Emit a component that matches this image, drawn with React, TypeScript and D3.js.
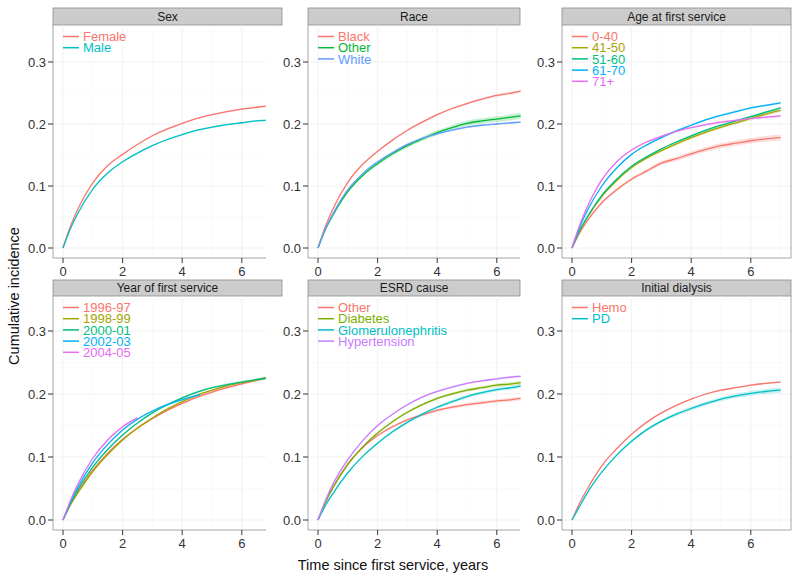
import React from "react";
import * as d3 from "d3";

// ---------- data ----------
const timesA = [0, 0.25, 0.5, 1, 1.5, 2, 2.5, 3, 3.5, 4, 4.5, 5, 5.5, 6, 6.5, 6.8];
const timesB = [0, 0.25, 0.5, 1, 1.5, 2, 2.5, 3, 3.5, 4, 4.5, 5, 5.5, 6, 6.5, 7];
const timesPD = [0, 0.25, 0.5, 0.75, 0.9, 1, 1.5, 2, 2.5, 3, 3.5, 4, 4.5, 5, 5.5, 6, 6.5, 7];
const timesHemo = [0, 0.25, 0.5, 0.75, 1, 1.5, 2, 2.5, 3, 3.5, 4, 4.5, 5, 5.5, 6, 6.5, 7];
const times0203 = [0, 0.25, 0.5, 1, 1.5, 2, 2.5, 3, 3.5, 4, 4.6];
const times0405 = [0, 0.25, 0.5, 1, 1.5, 2, 2.5];

const sexLabels = ["Female", "Male"];
const sexFemale = [0, 0.035, 0.063, 0.105, 0.133, 0.151, 0.167, 0.181, 0.192, 0.201, 0.209, 0.215, 0.22, 0.224, 0.227, 0.229];
const sexMale = [0, 0.031, 0.056, 0.095, 0.121, 0.139, 0.153, 0.165, 0.175, 0.183, 0.19, 0.195, 0.199, 0.202, 0.205, 0.206];

const raceLabels = ["Black", "Other", "White"];
const raceBlack = [0, 0.035, 0.063, 0.106, 0.135, 0.156, 0.174, 0.19, 0.203, 0.215, 0.225, 0.233, 0.24, 0.246, 0.25, 0.253];
const raceOther = [0, 0.03, 0.053, 0.091, 0.117, 0.136, 0.152, 0.165, 0.176, 0.186, 0.194, 0.201, 0.205, 0.208, 0.211, 0.213];
const raceWhite = [0, 0.031, 0.055, 0.094, 0.12, 0.139, 0.154, 0.167, 0.177, 0.184, 0.19, 0.195, 0.198, 0.2, 0.202, 0.203];

const ageLabels = ["0-40", "41-50", "51-60", "61-70", "71+"];
const age0040 = [0, 0.024, 0.043, 0.073, 0.094, 0.111, 0.124, 0.137, 0.144, 0.152, 0.159, 0.165, 0.169, 0.173, 0.176, 0.178];
const age4150 = [0, 0.027, 0.048, 0.083, 0.109, 0.13, 0.145, 0.157, 0.168, 0.178, 0.187, 0.195, 0.202, 0.209, 0.216, 0.222];
const age5160 = [0, 0.028, 0.049, 0.085, 0.111, 0.132, 0.147, 0.16, 0.171, 0.181, 0.19, 0.198, 0.205, 0.212, 0.219, 0.226];
const age6170 = [0, 0.033, 0.059, 0.1, 0.129, 0.151, 0.166, 0.178, 0.189, 0.198, 0.207, 0.214, 0.22, 0.226, 0.23, 0.234];
const age71p = [0, 0.036, 0.065, 0.11, 0.139, 0.158, 0.171, 0.18, 0.188, 0.194, 0.199, 0.203, 0.206, 0.209, 0.211, 0.213];

const yearLabels = ["1996-97", "1998-99", "2000-01", "2002-03", "2004-05"];
const year9697 = [0, 0.025, 0.045, 0.079, 0.106, 0.128, 0.146, 0.161, 0.174, 0.185, 0.195, 0.203, 0.21, 0.216, 0.222, 0.226];
const year9899 = [0, 0.024, 0.043, 0.077, 0.104, 0.127, 0.146, 0.162, 0.176, 0.188, 0.198, 0.206, 0.213, 0.218, 0.222, 0.225];
const year0001 = [0, 0.026, 0.048, 0.084, 0.112, 0.135, 0.154, 0.17, 0.183, 0.194, 0.203, 0.21, 0.215, 0.219, 0.223, 0.225];
const year0203 = [0, 0.028, 0.052, 0.091, 0.12, 0.143, 0.16, 0.173, 0.183, 0.191, 0.199];
const year0405 = [0, 0.031, 0.057, 0.098, 0.127, 0.148, 0.162];

const esrdLabels = ["Other", "Diabetes", "Glomerulonephritis", "Hypertension"];
const esrdOther = [0, 0.029, 0.052, 0.089, 0.115, 0.134, 0.148, 0.159, 0.167, 0.174, 0.179, 0.183, 0.186, 0.189, 0.191, 0.193];
const esrdDiab = [0, 0.028, 0.051, 0.088, 0.116, 0.138, 0.156, 0.171, 0.183, 0.193, 0.2, 0.206, 0.21, 0.214, 0.216, 0.218];
const esrdGN = [0, 0.023, 0.042, 0.075, 0.101, 0.122, 0.14, 0.155, 0.168, 0.179, 0.188, 0.196, 0.202, 0.207, 0.21, 0.213];
const esrdHyp = [0, 0.031, 0.057, 0.096, 0.126, 0.15, 0.168, 0.183, 0.195, 0.204, 0.211, 0.217, 0.221, 0.224, 0.227, 0.228];

const dialLabels = ["Hemo", "PD"];
const dialHemo = [0, 0.026, 0.048, 0.068, 0.086, 0.113, 0.136, 0.155, 0.17, 0.182, 0.192, 0.2, 0.206, 0.21, 0.214, 0.217, 0.219];
const dialPD = [0, 0.021, 0.042, 0.06, 0.07, 0.076, 0.103, 0.125, 0.143, 0.157, 0.168, 0.177, 0.185, 0.192, 0.197, 0.201, 0.204, 0.206];

// CI half widths at the end of follow-up, per series
const sexCI = [0.0015, 0.0015];
const raceCI = [0.002, 0.005, 0.0015];
const ageCI = [0.005, 0.003, 0.002, 0.002, 0.002];
const yearCI = [0.002, 0.002, 0.002, 0.002, 0.002];
const esrdCI = [0.003, 0.003, 0.003, 0.002];
const dialCI = [0.0015, 0.004];

const yTicks = [0, 0.1, 0.2, 0.3];
const yMinor = [0.05, 0.15, 0.25, 0.35];
const xTicks = [0, 2, 4, 6];
const xMinor = [1, 3, 5, 7];

const hue2 = ["#F8766D", "#00BFC4"];
const hue3 = ["#F8766D", "#00BA38", "#619CFF"];
const hue4 = ["#F8766D", "#7CAE00", "#00BFC4", "#C77CFF"];
const hue5 = ["#F8766D", "#A3A500", "#00BF7D", "#00B0F6", "#E76BF3"];

type Series = { label: string; t: number[]; v: number[]; ci: number; color: string };
type Panel = { title: string; col: number; row: number; series: Series[] };

const mk = (labels: string[], ts: number[][], vs: number[][], cis: number[], cols: string[]): Series[] =>
  labels.map((l, i) => ({ label: l, t: ts[i], v: vs[i], ci: cis[i], color: cols[i] }));

const panels: Panel[] = [
  { title: "Sex", col: 0, row: 0, series: mk(sexLabels, [timesA, timesA], [sexFemale, sexMale], sexCI, hue2) },
  { title: "Race", col: 1, row: 0, series: mk(raceLabels, [timesA, timesA, timesA], [raceBlack, raceOther, raceWhite], raceCI, hue3) },
  {
    title: "Age at first service", col: 2, row: 0,
    series: mk(ageLabels, [timesB, timesB, timesB, timesB, timesB], [age0040, age4150, age5160, age6170, age71p], ageCI, hue5),
  },
  {
    title: "Year of first service", col: 0, row: 1,
    series: mk(yearLabels, [timesA, timesA, timesA, times0203, times0405], [year9697, year9899, year0001, year0203, year0405], yearCI, hue5),
  },
  {
    title: "ESRD cause", col: 1, row: 1,
    series: mk(esrdLabels, [timesA, timesA, timesA, timesA], [esrdOther, esrdDiab, esrdGN, esrdHyp], esrdCI, hue4),
  },
  { title: "Initial dialysis", col: 2, row: 1, series: mk(dialLabels, [timesHemo, timesPD], [dialHemo, dialPD], dialCI, hue2) },
];

// ---------- layout ----------
const W = 800;
const H = 581;
const PX_PER_UNIT = 29.8;
const COLS = [
  { left: 53, x0: 63, right: 266, stripRight: 282, border: false },
  { left: 308, x0: 318, right: 520, stripRight: 520, border: false },
  { left: 562, x0: 572, right: 791, stripRight: 791, border: true },
];
const ROWS = [
  { stripTop: 8, top: 25, bottom: 258, y0: 248, y3: 62 },
  { stripTop: 280, top: 296, bottom: 530, y0: 520, y3: 331 },
];
const FONT = "'Liberation Sans', Arial, Helvetica, sans-serif";

function PanelView({ p }: { p: Panel }) {
  const c = COLS[p.col];
  const r = ROWS[p.row];
  const x = d3.scaleLinear().domain([0, 6]).range([c.x0, c.x0 + 6 * PX_PER_UNIT]);
  const y = d3.scaleLinear().domain([0, 0.3]).range([r.y0, r.y3]);
  const line = d3
    .line<[number, number]>()
    .x((d) => x(d[0]))
    .y((d) => y(d[1]))
    .curve(d3.curveMonotoneX);
  const area = d3
    .area<[number, number, number]>()
    .x((d) => x(d[0]))
    .y0((d) => y(d[1] - d[2]))
    .y1((d) => y(d[1] + d[2]))
    .curve(d3.curveMonotoneX);
  const inX = (v: number) => x(v) >= c.left && x(v) <= c.right;
  const inY = (v: number) => y(v) >= r.top && y(v) <= r.bottom;
  return (
    <g>
      {/* strip */}
      <rect x={c.left} y={r.stripTop} width={c.stripRight - c.left} height={r.top - r.stripTop} fill="#cccccc" stroke="#8c8c8c" strokeWidth={0.8} />
      <text x={(c.left + c.stripRight) / 2} y={(r.stripTop + r.top) / 2 + 4.2} textAnchor="middle" fontSize={12} fill="#1a1a1a" fontFamily={FONT}>
        {p.title}
      </text>
      {/* grid */}
      {yMinor.filter(inY).map((v) => (
        <line key={"ym" + v} x1={c.left} x2={c.right} y1={y(v)} y2={y(v)} stroke="#f7f7f7" strokeWidth={0.6} />
      ))}
      {xMinor.filter(inX).map((v) => (
        <line key={"xm" + v} x1={x(v)} x2={x(v)} y1={r.top} y2={r.bottom} stroke="#f7f7f7" strokeWidth={0.6} />
      ))}
      {yTicks.map((v) => (
        <line key={"yg" + v} x1={c.left} x2={c.right} y1={y(v)} y2={y(v)} stroke="#eeeeee" strokeWidth={0.8} />
      ))}
      {xTicks.map((v) => (
        <line key={"xg" + v} x1={x(v)} x2={x(v)} y1={r.top} y2={r.bottom} stroke="#eeeeee" strokeWidth={0.8} />
      ))}
      {/* ribbons */}
      {p.series.map((s) => {
        const tmax = s.t[s.t.length - 1];
        const pts = s.t.map((t, i) => [t, s.v[i], s.ci * Math.sqrt(t / tmax)] as [number, number, number]);
        return <path key={"a" + s.label} d={area(pts) || ""} fill={s.color} opacity={0.22} />;
      })}
      {/* lines */}
      {p.series.map((s) => (
        <path
          key={"l" + s.label}
          d={line(s.t.map((t, i) => [t, s.v[i]] as [number, number])) || ""}
          fill="none"
          stroke={s.color}
          strokeWidth={1.3}
        />
      ))}
      {/* axes */}
      <line x1={c.left} x2={c.left} y1={r.top} y2={r.bottom} stroke="#a6a6a6" strokeWidth={1} />
      <line x1={c.left} x2={c.right} y1={r.bottom} y2={r.bottom} stroke="#a6a6a6" strokeWidth={1} />
      {c.border && <line x1={c.right} x2={c.right} y1={r.top} y2={r.bottom} stroke="#a6a6a6" strokeWidth={1} />}
      {yTicks.map((v) => (
        <g key={"yt" + v}>
          <line x1={c.left - 5} x2={c.left} y1={y(v)} y2={y(v)} stroke="#333" strokeWidth={1} />
          <text x={c.left - 7} y={y(v) + 4.5} textAnchor="end" fontSize={13} fill="#333" fontFamily={FONT}>
            {d3.format(".1f")(v)}
          </text>
        </g>
      ))}
      {xTicks.map((v) => (
        <g key={"xt" + v}>
          <line x1={x(v)} x2={x(v)} y1={r.bottom} y2={r.bottom + 5} stroke="#333" strokeWidth={1} />
          <text x={x(v)} y={r.bottom + 18} textAnchor="middle" fontSize={13} fill="#333" fontFamily={FONT}>
            {v}
          </text>
        </g>
      ))}
      {/* legend */}
      {p.series.map((s, i) => {
        const ly = r.top + 11.5 + i * 11.2;
        return (
          <g key={"lg" + s.label}>
            <line x1={c.left + 10} x2={c.left + 26} y1={ly} y2={ly} stroke={s.color} strokeWidth={1.5} />
            <text x={c.left + 30} y={ly + 4.7} fontSize={13} fill={s.color} fontFamily={FONT}>
              {s.label}
            </text>
          </g>
        );
      })}
    </g>
  );
}

export default function App() {
  return (
    <svg width={W} height={H} style={{ position: "absolute", left: 0, top: 0, background: "#fff" }}>
      <rect x={0} y={0} width={W} height={H} fill="#fff" />
      {panels.map((p) => (
        <PanelView key={p.title} p={p} />
      ))}
      <text x={393} y={570} textAnchor="middle" fontSize={14.5} fill="#111" fontFamily={FONT}>
        Time since first service, years
      </text>
      <text transform="translate(19,296) rotate(-90)" textAnchor="middle" fontSize={14.5} fill="#111" fontFamily={FONT}>
        Cumulative incidence
      </text>
    </svg>
  );
}
